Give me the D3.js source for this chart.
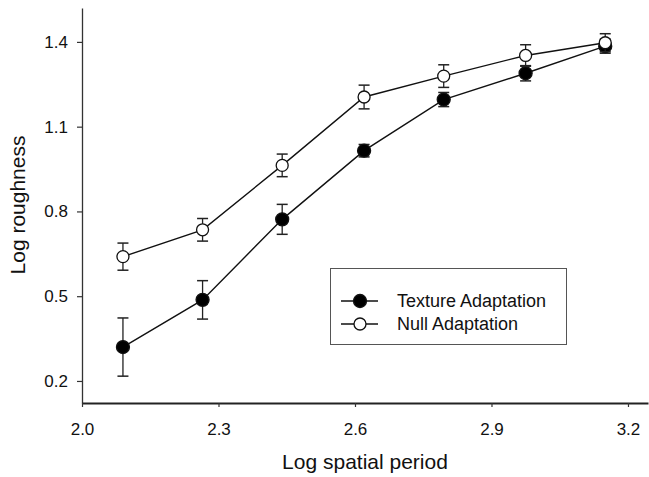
<!DOCTYPE html>
<html>
<head>
<meta charset="utf-8">
<script src="https://cdn.jsdelivr.net/npm/d3@7"></script>
<style>
  body { margin: 0; background: #fff; }
  text { font-family: "Liberation Sans", Arial, sans-serif; fill: #111; }
</style>
</head>
<body>
<svg id="chart"></svg>
<script>
// Log spatial period for each condition
var periods = [2.09, 2.265, 2.44, 2.62, 2.795, 2.975, 3.15];

// Texture adaptation means and error bars
var textureMeans = [0.32, 0.487, 0.772, 1.015, 1.196, 1.289, 1.385];
var textureErr = [0.103, 0.068, 0.053, 0.022, 0.025, 0.027, 0.025];

// Null adaptation means and error bars
var nullMeans = [0.64, 0.735, 0.963, 1.205, 1.279, 1.352, 1.397];
var nullErr = [0.048, 0.04, 0.04, 0.042, 0.04, 0.038, 0.032];

// Tick labels
var xTicks = [2.0, 2.3, 2.6, 2.9, 3.2];
var yTicks = [0.2, 0.5, 0.8, 1.1, 1.4];

var width = 649,
  height = 477;

var svg = d3.select("#chart").attr("width", width).attr("height", height);

// Scales
var x = d3.scaleLinear().domain([2.0, 3.244]).range([82, 648]);
var y = d3.scaleLinear().domain([0.122, 1.52]).range([403, 8]);

// Y axis
var yAxis = svg
  .append("g")
  .attr("transform", "translate(82,0)")
  .call(
    d3.axisLeft(y)
      .tickValues(yTicks)
      .tickFormat(d3.format(".1f"))
      .tickSize(5)
      .tickPadding(9)
      .tickSizeOuter(0)
  );
yAxis.select(".domain").attr("stroke", "#333").attr("stroke-width", 1.3);
yAxis.selectAll(".tick line").attr("stroke", "#333").attr("stroke-width", 1.2);
yAxis.selectAll(".tick text").style("font-size", "17px").attr("fill", "#111");

// X axis
var xAxis = svg
  .append("g")
  .attr("transform", "translate(0,403)")
  .call(
    d3.axisBottom(x)
      .tickValues(xTicks)
      .tickFormat(d3.format(".1f"))
      .tickSize(4)
      .tickPadding(16)
      .tickSizeOuter(0)
  );
xAxis.select(".domain").attr("stroke", "#222").attr("stroke-width", 2);
xAxis.selectAll(".tick line").attr("stroke", "#333").attr("stroke-width", 1.2);
xAxis.selectAll(".tick text").style("font-size", "17px").attr("fill", "#111");

// Axis titles
svg
  .append("text")
  .attr("x", 365)
  .attr("y", 469)
  .style("text-anchor", "middle")
  .style("font-size", "21px")
  .text("Log spatial period");

svg
  .append("text")
  .attr("transform", "translate(25,205) rotate(-90)")
  .style("text-anchor", "middle")
  .style("font-size", "21px")
  .text("Log roughness");

// Build series
var series = [
  { name: "Texture Adaptation", means: textureMeans, err: textureErr, fill: "#000", r: 6.5 },
  { name: "Null Adaptation", means: nullMeans, err: nullErr, fill: "#fff", r: 6 },
];

var line = d3
  .line()
  .x(function (d) { return x(d.x); })
  .y(function (d) { return y(d.y); });

series.forEach(function (s) {
  var pts = periods.map(function (p, i) {
    return { x: p, y: s.means[i], e: s.err[i] };
  });
  var g = svg.append("g");

  g.append("path")
    .datum(pts)
    .attr("d", line)
    .attr("fill", "none")
    .attr("stroke", "#111")
    .attr("stroke-width", 1.4);

  // Error bars
  var eb = g.selectAll(".err").data(pts).enter().append("g");
  eb.append("line")
    .attr("x1", function (d) { return x(d.x); })
    .attr("x2", function (d) { return x(d.x); })
    .attr("y1", function (d) { return y(d.y - d.e); })
    .attr("y2", function (d) { return y(d.y + d.e); })
    .attr("stroke", "#222")
    .attr("stroke-width", 1.3);
  [-1, 1].forEach(function (sgn) {
    eb.append("line")
      .attr("x1", function (d) { return x(d.x) - 5.5; })
      .attr("x2", function (d) { return x(d.x) + 5.5; })
      .attr("y1", function (d) { return y(d.y + sgn * d.e); })
      .attr("y2", function (d) { return y(d.y + sgn * d.e); })
      .attr("stroke", "#222")
      .attr("stroke-width", 1.5);
  });

  g.selectAll("circle")
    .data(pts)
    .enter()
    .append("circle")
    .attr("cx", function (d) { return x(d.x); })
    .attr("cy", function (d) { return y(d.y); })
    .attr("r", s.r)
    .attr("fill", s.fill)
    .attr("stroke", "#111")
    .attr("stroke-width", 1.3);
});

// Legend
var legend = svg.append("g");
legend
  .append("rect")
  .attr("x", 330.5)
  .attr("y", 268.5)
  .attr("width", 236)
  .attr("height", 76)
  .attr("fill", "#fff")
  .attr("stroke", "#555")
  .attr("stroke-width", 1);

series.forEach(function (s, i) {
  var ly = 301 + i * 23;
  legend
    .append("line")
    .attr("x1", 341)
    .attr("x2", 378)
    .attr("y1", ly)
    .attr("y2", ly)
    .attr("stroke", "#111")
    .attr("stroke-width", 1.4);
  legend
    .append("circle")
    .attr("cx", 360)
    .attr("cy", ly)
    .attr("r", s.r)
    .attr("fill", s.fill)
    .attr("stroke", "#111")
    .attr("stroke-width", 1.3);
  legend
    .append("text")
    .attr("x", 397)
    .attr("y", ly)
    .attr("dy", "0.35em")
    .style("font-size", "18px")
    .text(s.name);
});
</script>
</body>
</html>
